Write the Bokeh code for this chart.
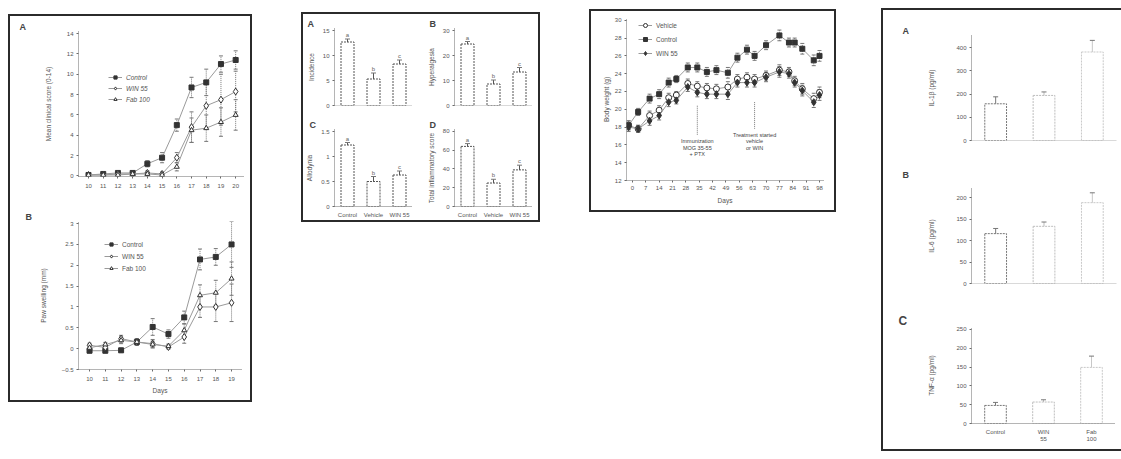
from bokeh.plotting import figure
from bokeh.layouts import row, column
from bokeh.models import (Spacer, Legend, LegendItem, FixedTicker, Range1d, Span,
                          FactorRange, ColumnDataSource, Whisker, TeeHead)
from bokeh.embed import file_html
from bokeh.resources import INLINE
from bokeh.core.properties import value

FONT = "Liberation Sans"
INK = "#333333"
MID = "#666666"
LINE = "#9a9a9a"
TXT = "#555555"

# ---------------- Group 1: time courses ----------------
days_a = [10, 11, 12, 13, 14, 15, 16, 17, 18, 19, 20]
score_ticks = [0, 2, 4, 6, 8, 10, 12, 14]
a_labels = ["Control", "WIN 55", "Fab 100"]
a_control = [0.1, 0.2, 0.3, 0.3, 1.2, 1.8, 5.0, 8.7, 9.2, 11.0, 11.4]
a_control_err = [0.0, 0.0, 0.1, 0.1, 0.3, 0.5, 0.6, 1.0, 1.3, 0.8, 0.9]
a_win = [0.1, 0.1, 0.2, 0.2, 0.3, 0.2, 1.8, 4.8, 6.9, 7.5, 8.3]
a_win_err = [0.0, 0.0, 0.0, 0.1, 0.2, 0.2, 0.5, 1.5, 2.2, 2.5, 2.0]
a_fab = [0.1, 0.1, 0.1, 0.2, 0.2, 0.1, 0.9, 4.5, 4.7, 5.3, 6.0]
a_fab_err = [0.0, 0.0, 0.0, 0.0, 0.1, 0.1, 0.4, 1.2, 1.3, 1.4, 1.5]
a_ylabel = "Mean clinical score (0-14)"

days_b = [10, 11, 12, 13, 14, 15, 16, 17, 18, 19]
swell_ticks = [-0.5, 0.0, 0.5, 1.0, 1.5, 2.0, 2.5, 3.0]
b_labels = ["Control", "WIN 55", "Fab 100"]
b_control = [-0.05, -0.05, -0.04, 0.16, 0.52, 0.35, 0.75, 2.14, 2.20, 2.50]
b_control_err = [0.05, 0.05, 0.05, 0.08, 0.20, 0.10, 0.15, 0.25, 0.20, 0.55]
b_win = [0.08, 0.03, 0.24, 0.16, 0.12, 0.04, 0.28, 1.00, 1.00, 1.10]
b_win_err = [0.05, 0.05, 0.08, 0.08, 0.10, 0.05, 0.15, 0.25, 0.35, 0.45]
b_fab = [0.02, 0.10, 0.20, 0.16, 0.10, 0.06, 0.44, 1.28, 1.34, 1.68]
b_fab_err = [0.05, 0.05, 0.08, 0.08, 0.08, 0.05, 0.15, 0.25, 0.30, 0.40]
b_ylabel = "Paw swelling (mm)"
b_xlabel = "Days"

# ---------------- Group 2: four bar panels ----------------
g2_groups = ["Control", "Vehicle", "WIN 55"]
g2_marks = ["a", "b", "c"]
g2a_vals = [12.7, 5.3, 8.3]
g2a_err = [0.6, 1.2, 0.8]
g2a_ticks = [0, 5, 10, 15]
g2b_vals = [24.6, 8.6, 13.4]
g2b_err = [1.0, 1.6, 1.8]
g2b_ticks = [0, 10, 20, 30]
g2c_vals = [1.23, 0.50, 0.63]
g2c_err = [0.05, 0.10, 0.08]
g2c_ticks = [0.0, 0.5, 1.0, 1.5]
g2d_vals = [64, 25, 39]
g2d_err = [3, 4, 5]
g2d_ticks = [0, 20, 40, 60, 80]
g2_ylabels = ["Incidence", "Hyperalgesia", "Allodynia", "Total inflammatory score"]

# ---------------- Group 3: body weight ----------------
w_days = [-2, 3, 9, 14, 19, 23, 29, 34, 39, 44, 50, 55, 60, 64, 70, 77, 82, 85, 89, 95, 98]
w_ticks = [0, 7, 14, 21, 28, 35, 42, 49, 56, 63, 70, 77, 84, 91, 98]
w_yticks = [12, 14, 16, 18, 20, 22, 24, 26, 28, 30]
w_labels = ["Vehicle", "Control", "WIN 55"]
w_vehicle = [18.2, 17.8, 19.3, 19.9, 21.3, 21.6, 22.9, 22.6, 22.4, 22.3, 22.5,
             23.4, 23.6, 23.4, 23.8, 24.4, 24.2, 23.2, 22.3, 21.2, 21.9]
w_control = [18.2, 19.7, 21.2, 21.7, 23.0, 23.4, 24.7, 24.7, 24.2, 24.4, 24.1,
             25.8, 26.7, 26.0, 27.2, 28.3, 27.5, 27.5, 26.8, 25.5, 26.0]
w_win = [18.0, 17.8, 18.7, 19.3, 20.8, 21.0, 22.5, 21.9, 21.7, 21.7, 21.7,
         23.0, 23.0, 23.0, 23.6, 24.2, 24.0, 23.0, 22.1, 20.8, 21.6]
w_err = [0.5, 0.4, 0.5, 0.5, 0.5, 0.4, 0.5, 0.5, 0.5, 0.5, 0.6,
         0.5, 0.5, 0.5, 0.5, 0.6, 0.5, 0.5, 0.6, 0.6, 0.6]
w_ylabel = "Body weight (g)"
w_xlabel = "Days"
event_days = [34, 64]
event_top = [20.4, 20.8]
event_bottom = [17.1, 17.8]
event_text = ["Immunization\nMOG 35-55\n+ PTX", "Treatment started\nvehicle\nor WIN"]

# ---------------- Group 4: cytokines ----------------
g4_groups = ["Control", "WIN\n55", "Fab\n100"]
g4a_vals = [158, 194, 381]
g4a_err = [30, 15, 50]
g4a_ticks = [0, 100, 200, 300, 400]
g4b_vals = [116, 133, 188]
g4b_err = [12, 10, 23]
g4b_ticks = [0, 50, 100, 150, 200]
g4c_vals = [48, 57, 149]
g4c_err = [8, 6, 30]
g4c_ticks = [0, 50, 100, 150, 200, 250]
g4_ylabels = ["IL-1\u03b2 (pg/ml)", "IL-6 (pg/ml)", "TNF-\u03b1 (pg/ml)"]
g4_bar_colors = ["#777777", "#bdbdbd", "#c8c8c8"]


def style_fig(p):
    p.outline_line_color = None
    p.xgrid.visible = False
    p.ygrid.visible = False
    p.background_fill_color = "white"
    p.border_fill_color = "white"
    for ax in p.axis:
        ax.axis_line_color = "#6a6a6a"
        ax.axis_line_dash = "1 1"
        ax.major_tick_line_color = "#6a6a6a"
        ax.major_tick_out = 2
        ax.major_tick_in = 0
        ax.minor_tick_line_color = None
        ax.major_label_text_font = FONT
        ax.major_label_text_font_size = "6px"
        ax.major_label_text_color = TXT
        ax.major_label_standoff = 3
        ax.axis_label_text_font = FONT
        ax.axis_label_text_font_size = "6.5px"
        ax.axis_label_text_font_style = "normal"
        ax.axis_label_text_color = TXT
    return p


def frame_fig(fw, fh, bl, br, bt, bb, x_range, y_range):
    p = figure(frame_width=fw, frame_height=fh, min_border_left=bl, min_border_right=br,
               min_border_top=bt, min_border_bottom=bb, x_range=x_range, y_range=y_range,
               output_backend="svg", toolbar_location=None)
    return style_fig(p)


def letter(p, text, dx, size="9px", standoff=0):
    # panel letter drawn as the plot title, pushed left past the y axis
    p.title.text = text
    p.title.align = "left"
    p.title.offset = dx
    p.title.standoff = standoff
    p.title.text_font = FONT
    p.title.text_font_size = size
    p.title.text_font_style = "bold"
    p.title.text_color = "#444444"


def series(p, x, y, err, marker, fill, size, dash="solid"):
    src = ColumnDataSource(dict(x=x, y=y, lo=[v - e for v, e in zip(y, err)],
                                hi=[v + e for v, e in zip(y, err)]))
    p.add_layout(Whisker(source=src, base="x", lower="lo", upper="hi", line_color="#777777",
                         line_width=1, line_dash="1 1",
                         upper_head=TeeHead(size=4, line_color="#777777"),
                         lower_head=TeeHead(size=4, line_color="#777777")))
    l = p.line("x", "y", source=src, line_color=LINE, line_width=1, line_dash=dash)
    s = p.scatter("x", "y", source=src, marker=marker, size=size, fill_color=fill,
                  line_color=INK, line_width=1)
    return [l, s]


def legend(p, labels, rends, loc, spacing, gh, italic=False):
    items = [LegendItem(label=lab, renderers=r) for lab, r in zip(labels, rends)]
    lg = Legend(items=items, location=loc, padding=0, margin=0, spacing=spacing,
                glyph_height=gh, glyph_width=14, label_height=gh, label_standoff=4,
                label_text_font=FONT, label_text_font_size="6.5px",
                label_text_font_style="italic" if italic else "normal",
                label_text_color=TXT, background_fill_alpha=0, border_line_alpha=0)
    p.add_layout(lg)


# ---- Group 1 panel A
pA = frame_fig(166, 145, 61, 13, 15, 30, Range1d(9.32, 20.6), Range1d(-0.05, 14.2))
pA.xaxis.ticker = FixedTicker(ticks=days_a)
pA.yaxis.ticker = FixedTicker(ticks=score_ticks)
pA.yaxis.axis_label = a_ylabel
pA.yaxis.axis_label_standoff = 12
pA.xaxis.major_label_standoff = 5
rA = [series(pA, days_a, a_control, a_control_err, "square", INK, 5),
      series(pA, days_a, a_win, a_win_err, "diamond", "white", 7),
      series(pA, days_a, a_fab, a_fab_err, "triangle", "white", 5)]
legend(pA, a_labels, rA, (30, 73), 3, 8, italic=True)
letter(pA, "A", -59)

# ---- Group 1 panel B
pB = frame_fig(163, 148, 68, 9, 15, 31, Range1d(9.3, 19.63), Range1d(-0.5, 3.05))
pB.xaxis.ticker = FixedTicker(ticks=days_b)
pB.yaxis.ticker = FixedTicker(ticks=swell_ticks)
pB.yaxis.axis_label = b_ylabel
pB.yaxis.axis_label_standoff = 12
pB.xaxis.axis_label = b_xlabel
pB.xaxis.axis_label_standoff = 3
pB.xaxis.major_label_standoff = 5
rB = [series(pB, days_b, b_control, b_control_err, "square", INK, 5),
      series(pB, days_b, b_win, b_win_err, "diamond", "white", 7),
      series(pB, days_b, b_fab, b_fab_err, "triangle", "white", 5)]
legend(pB, b_labels, rB, (26, 97), 4, 8)
letter(pB, "B", -53)


# ---- bar panels
def bar_panel(fw, fh, bl, br, bt, bb, cats, vals, errs, ticks, yend, ylabel, standoff,
              colors, marks=None, show_x=True, bar_w=0.5):
    p = frame_fig(fw, fh, bl, br, bt, bb, FactorRange(factors=cats), Range1d(0, yend))
    src = ColumnDataSource(dict(cat=cats, val=vals, col=colors,
                                lo=[v - e for v, e in zip(vals, errs)],
                                hi=[v + e for v, e in zip(vals, errs)]))
    p.vbar(x="cat", top="val", width=bar_w, source=src, fill_color="white",
           line_color="col", line_width=1, line_dash="2 1")
    p.add_layout(Whisker(source=src, base="cat", lower="lo", upper="hi", line_color="col",
                         line_width=1,
                         upper_head=TeeHead(size=5, line_color="#777777"),
                         lower_head=TeeHead(size=5, line_color="#777777")))
    if marks is not None:
        src.data["mark"] = marks
        p.text(x="cat", y="hi", text="mark", source=src, text_font=value(FONT),
               text_font_size="6px", text_color=MID, text_align="center",
               text_baseline="bottom", y_offset=-1)
    p.yaxis.ticker = FixedTicker(ticks=ticks)
    p.yaxis.axis_label = ylabel
    p.yaxis.axis_label_standoff = standoff
    p.xaxis.major_tick_line_color = None
    if not show_x:
        p.xaxis.visible = False
        p.add_layout(Span(location=0, dimension="width", line_color="#6a6a6a",
                          line_dash="1 1", line_width=1))
    return p


g2col = ["#555555"] * 3
p2a = bar_panel(78, 77, 31, 8, 14, 12, g2_groups, g2a_vals, g2a_err, g2a_ticks, 15.4,
                g2_ylabels[0], 5, g2col, g2_marks, show_x=False)
letter(p2a, "A", -27)
p2b = bar_panel(78, 77, 34, 6, 14, 12, g2_groups, g2b_vals, g2b_err, g2b_ticks, 30.8,
                g2_ylabels[1], 5, g2col, g2_marks, show_x=False)
letter(p2b, "B", -25)
p2c = bar_panel(78, 77, 31, 8, 12, 14, g2_groups, g2c_vals, g2c_err, g2c_ticks, 1.54,
                g2_ylabels[2], 5, g2col, g2_marks)
letter(p2c, "C", -25)
p2d = bar_panel(78, 77, 34, 6, 12, 14, g2_groups, g2d_vals, g2d_err, g2d_ticks, 82,
                g2_ylabels[3], 5, g2col, g2_marks)
letter(p2d, "D", -25)

# ---- Group 3 body weight
p3 = style_fig(figure(width=243, height=199, min_border_left=35, min_border_right=11,
                      min_border_top=7, min_border_bottom=30,
                      x_range=Range1d(-3.1, 100.1), y_range=Range1d(12, 30.2),
                      output_backend="svg", toolbar_location=None))
p3.xaxis.ticker = FixedTicker(ticks=w_ticks)
p3.yaxis.ticker = FixedTicker(ticks=w_yticks)
p3.yaxis.axis_label = w_ylabel
p3.yaxis.axis_label_standoff = 2
p3.xaxis.axis_label = w_xlabel
p3.xaxis.axis_label_standoff = 4
r3 = [series(p3, w_days, w_vehicle, w_err, "circle", "white", 6),
      series(p3, w_days, w_control, w_err, "square", INK, 5),
      series(p3, w_days, w_win, w_err, "diamond", INK, 7)]
legend(p3, w_labels, r3, (12, 122), 4, 10)
ev = ColumnDataSource(dict(x=event_days, top=event_top, bottom=event_bottom, text=event_text))
p3.segment(x0="x", y0="top", x1="x", y1="bottom", source=ev, line_color="#777777",
           line_dash="1 1", line_width=1)
p3.text(x="x", y="bottom", text="text", source=ev, text_font=value(FONT),
        text_font_size="5.5px", text_color="#444444", text_align="center",
        text_baseline="top", y_offset=3, text_line_height=1.1)

# ---- Group 4 cytokines
p4a = bar_panel(145, 105, 84, 9, 25, 17, g4_groups, g4a_vals, g4a_err, g4a_ticks, 452,
                g4_ylabels[0], 18, g4_bar_colors, show_x=False, bar_w=0.45)
letter(p4a, "A", -69)
p4b = bar_panel(145, 95, 84, 9, 31, 17, g4_groups, g4b_vals, g4b_err, g4b_ticks, 221,
                g4_ylabels[1], 18, g4_bar_colors, show_x=False, bar_w=0.45)
letter(p4b, "B", -69, standoff=18)
p4c = bar_panel(144, 96, 88, 6, 27, 26, g4_groups, g4c_vals, g4c_err, g4c_ticks, 255,
                g4_ylabels[2], 18, g4_bar_colors, bar_w=0.45)
letter(p4c, "C", -73, size="12px")

border = {"border": "2px solid #2b2b2b"}
border4 = {"border-top": "2px solid #2b2b2b", "border-left": "2px solid #2b2b2b",
           "border-bottom": "2px solid #2b2b2b"}

g1 = column(pA, pB, styles=border)
g2 = column(row(p2a, p2b), row(p2c, p2d), styles=border)
g3 = column(p3, styles=border)
g4 = column(p4a, p4b, p4c, styles=border4)

inner = row(column(Spacer(height=6), g1), Spacer(width=49),
            column(Spacer(height=4), g2), Spacer(width=49),
            column(Spacer(height=1), g3), Spacer(width=45), g4)
layout = row(Spacer(width=8), column(Spacer(height=8), inner))

open("out.html", "w").write(file_html(layout, INLINE))
